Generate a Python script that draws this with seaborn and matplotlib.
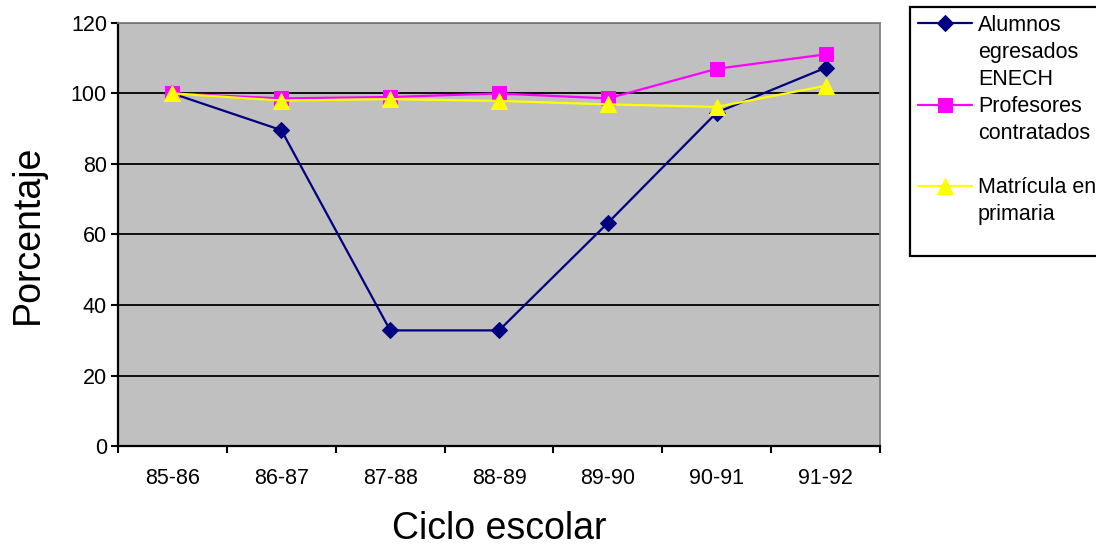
import numpy as np
import pandas as pd
import seaborn as sns
import matplotlib
matplotlib.use("Agg")
import matplotlib.pyplot as plt
from matplotlib.lines import Line2D
from matplotlib.patches import Rectangle

ciclos = ["85-86", "86-87", "87-88", "88-89", "89-90", "90-91", "91-92"]
alumnos = [100, 89.6, 32.8, 32.8, 63.3, 94.6, 107.3]
profesores = [100, 98.6, 99.0, 100.0, 98.6, 107.0, 111.1]
matricula = [100, 98.0, 98.4, 97.9, 96.9, 96.2, 102.2]

series = ["Alumnos egresados ENECH", "Profesores contratados", "Matrícula en primaria"]
# lines of each legend label, as in the original box
leyenda = [["Alumnos", "egresados", "ENECH"],
           ["Profesores", "contratados", " "],
           ["Matrícula en", "primaria"]]
valores = [alumnos, profesores, matricula]
colores = ["#000080", "#FF00FF", "#FFFF00"]
marcas = ["D", "s", "^"]
tamanos = [8, 10, 11]

df = pd.DataFrame({
    "ciclo": np.tile(np.arange(len(ciclos)), len(series)),
    "valor": np.concatenate(valores),
    "serie": np.repeat(series, len(ciclos)),
})

sns.set_style("white", {"xtick.bottom": True, "ytick.left": True})
plt.rcParams["font.family"] = ["Liberation Sans", "DejaVu Sans"]
for k in ["text.color", "axes.labelcolor", "xtick.color", "ytick.color"]:
    plt.rcParams[k] = "black"

fig = plt.figure(figsize=(10.96, 5.47), dpi=100)
ax = fig.add_axes([0.1077, 0.1846, 0.6953, 0.7734])
ax.set_facecolor("#C0C0C0")

for s, c, m, ms in zip(series, colores, marcas, tamanos):
    sns.lineplot(data=df[df["serie"] == s], x="ciclo", y="valor", ax=ax,
                 color=c, marker=m, markersize=ms, markeredgecolor=c,
                 linewidth=1.6, label=s, zorder=3)

ax.set_xlim(-0.5, len(ciclos) - 0.5)
ax.set_ylim(0, 120)
ax.set_yticks(range(0, 121, 20))
ax.set_xticks(range(len(ciclos)))
ax.set_xticklabels(ciclos)
ax.set_xticks(np.arange(-0.5, len(ciclos), 1), minor=True)
ax.tick_params(axis="x", which="major", length=0, labelsize=15.5, pad=16)
ax.tick_params(axis="x", which="minor", length=5, width=1.5, color="black", direction="out")
ax.tick_params(axis="y", length=5, width=1.5, color="black", direction="out", labelsize=15.5, pad=3)
ax.yaxis.grid(True, color="black", linewidth=1.3)
ax.set_axisbelow(True)

for lado in ["left", "bottom"]:
    ax.spines[lado].set_color("black")
    ax.spines[lado].set_linewidth(1.6)
for lado in ["top", "right"]:
    ax.spines[lado].set_color("#808080")
    ax.spines[lado].set_linewidth(1.3)

ax.set_xlabel("Ciclo escolar", fontsize=27, labelpad=16)
ax.set_ylabel("Porcentaje", fontsize=27, labelpad=18)

handles, labels = ax.get_legend_handles_labels()
ax.get_legend().remove()
vacio = Line2D([], [], linestyle="none")
h_ley, l_ley = [], []
for h, lineas in zip(handles, leyenda):
    for i, t in enumerate(lineas):
        h_ley.append(h if i == 0 else vacio)
        l_ley.append(t)

# legend box runs off the right edge of the picture
fig.patches.append(Rectangle((910 / 1096, 1 - 256 / 547), 220 / 1096, 249 / 547,
                             transform=fig.transFigure, facecolor="white",
                             edgecolor="black", linewidth=1.6))
leg = fig.legend(h_ley, l_ley, loc="upper left", bbox_to_anchor=(918 / 1096, 1 - 15 / 547),
                 fontsize=15.5, frameon=False, handlelength=2.5, handletextpad=0.28,
                 labelspacing=0.28, borderpad=0, borderaxespad=0)

fig.savefig("out.png", dpi=100)
